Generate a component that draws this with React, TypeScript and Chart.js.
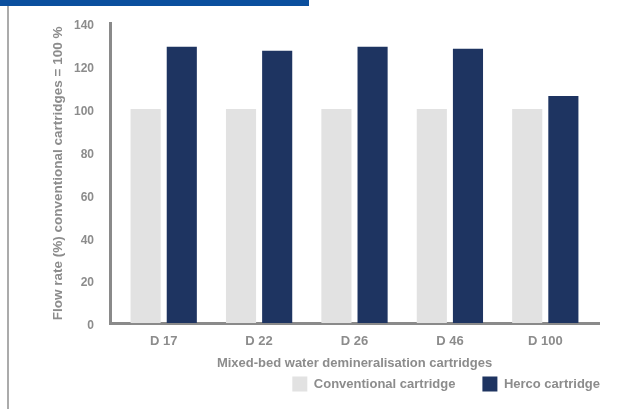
import React, { useEffect, useRef } from "react";
import { Chart, registerables } from "chart.js";

Chart.register(...registerables);

const categories = ["D 17", "D 22", "D 26", "D 46", "D 100"];
const conventional = [100, 100, 100, 100, 100];
const herco = [129, 127.2, 129, 128.1, 106.1];
const seriesNames = ["Conventional cartridge", "Herco cartridge"];
const yTicks = [0, 20, 40, 60, 80, 100, 120, 140];
const yTitle = "Flow rate (%) conventional cartridges = 100 %";
const xTitle = "Mixed-bed water demineralisation cartridges";

const TEXT = "#8c8c8c";
const AXIS = "#8a8a8a";
const FONT = "'Liberation Sans', Arial, Helvetica, sans-serif";

export default function App() {
  const ref = useRef<HTMLCanvasElement | null>(null);

  useEffect(() => {
    if (!ref.current) return;
    const chart = new Chart(ref.current, {
      type: "bar",
      data: {
        datasets: [
          {
            label: seriesNames[0],
            data: categories.map((_, i) => ({ x: i, y: conventional[i] })),
            backgroundColor: "#e2e2e2",
            borderWidth: 0,
            categoryPercentage: 0.758,
            barPercentage: 0.833,
          },
          {
            label: seriesNames[1],
            data: categories.map((_, i) => ({ x: i, y: herco[i] })),
            backgroundColor: "#1e3461",
            borderWidth: 0,
            categoryPercentage: 0.758,
            barPercentage: 0.833,
          },
        ],
      },
      options: {
        animation: false,
        responsive: false,
        layout: { padding: { left: 0, right: 16, top: 18, bottom: 7.5 } },
        plugins: {
          tooltip: { enabled: false },
          legend: {
            position: "bottom",
            align: "end",
            labels: {
              boxWidth: 15,
              boxHeight: 15,
              padding: 27,
              color: TEXT,
              font: { family: FONT, size: 13, weight: "bold" },
            },
          },
        },
        scales: {
          x: {
            type: "linear",
            offset: false,
            min: -0.563,
            max: categories.length - 1 + 0.563,
            afterBuildTicks: (s: any) => {
              s.ticks = categories.map((_, i) => ({ value: i }));
            },
            afterFit: (s: any) => {
              s.height = 26;
            },
            grid: { color: "rgba(0,0,0,0)", drawTicks: false, offset: false },
            border: { display: true, color: AXIS, width: 3 },
            ticks: {
              color: TEXT,
              padding: 10,
              font: { family: FONT, size: 13, weight: "bold" },
              callback: (v: any) => categories[Math.round(Number(v))] ?? "",
              maxRotation: 0,
              autoSkip: false,
            },
            title: {
              display: true,
              text: xTitle,
              color: TEXT,
              font: { family: FONT, size: 13, weight: "bold" },
              padding: { top: 0, bottom: -21.3 },
            },
          },
          y: {
            min: 0,
            max: 140,
            afterBuildTicks: (s: any) => {
              s.ticks = yTicks.map((v) => ({ value: v }));
            },
            afterFit: (s: any) => {
              s.width = 110;
            },
            grid: { color: "rgba(0,0,0,0)", drawTicks: false },
            border: { display: true, color: AXIS, width: 3 },
            ticks: {
              color: TEXT,
              padding: 16,
              labelOffset: 2.5,
              font: { family: FONT, size: 12, weight: "bold" },
            },
            title: {
              display: true,
              text: yTitle,
              color: TEXT,
              font: { family: FONT, size: 13.5, weight: "bold" },
              padding: { top: 49.9, bottom: 0 },
            },
          },
          yR: {
            type: "linear",
            position: "right",
            display: true,
            grid: { display: false },
            border: { display: false },
            ticks: { display: false },
            afterFit: (s: any) => {
              s.width = 28;
            },
          },
        },
      },
    } as any);
    return () => chart.destroy();
  }, []);

  return (
    <div style={{ position: "absolute", left: 0, top: 0, width: 643, height: 409, background: "#fff" }}>
      <div style={{ position: "absolute", left: 0, top: 0, width: 309, height: 6, background: "#0b4f9e" }} />
      <div style={{ position: "absolute", left: 7, top: 6, width: 2, height: 403, background: "#ababab" }} />
      <canvas ref={ref} width={643} height={409} style={{ position: "absolute", left: 0, top: 0, width: 643, height: 409 }} />
    </div>
  );
}
